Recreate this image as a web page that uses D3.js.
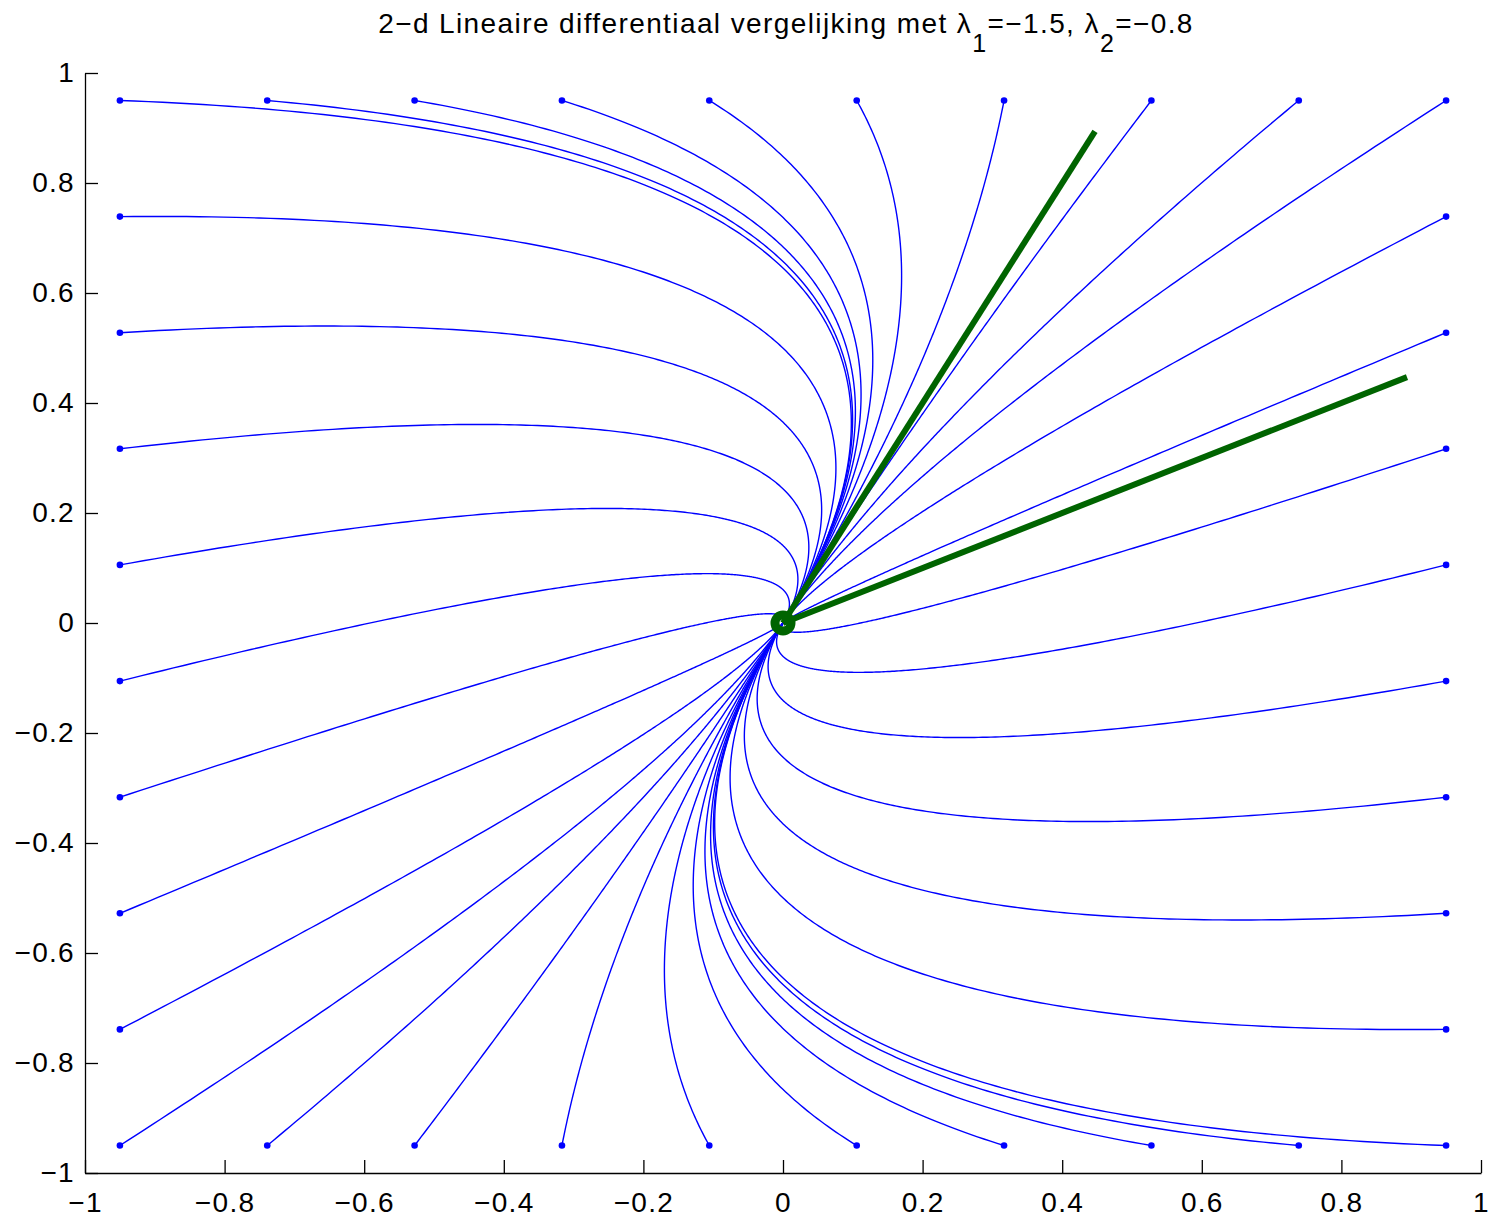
<!DOCTYPE html>
<html>
<head>
<meta charset="utf-8">
<script src="https://cdn.jsdelivr.net/npm/d3@7"></script>
<style>
  body { margin: 0; background: #fff; }
  svg text { font-family: "Liberation Sans", Arial, Helvetica, sans-serif; }
</style>
</head>
<body>
<svg id="chart" width="1491" height="1219"></svg>
<script>
// eigenvalues from the title, eigenvectors
const lambdas = [-1.5, -0.8];
const eigVecs = [[0.894, 0.447], [0.447, 0.894]];

// start positions (blue dots) along the edges of the square
const edgeVals = [-0.95, -0.7389, -0.5278, -0.3167, -0.1056, 0.1056, 0.3167, 0.5278, 0.7389, 0.95];
const innerVals = [-0.7389, -0.5278, -0.3167, -0.1056, 0.1056, 0.3167, 0.5278, 0.7389];

const xTicks = [-1, -0.8, -0.6, -0.4, -0.2, 0, 0.2, 0.4, 0.6, 0.8, 1];
const yTicks = [-1, -0.8, -0.6, -0.4, -0.2, 0, 0.2, 0.4, 0.6, 0.8, 1];

const starts = [];
edgeVals.forEach(v => { starts.push([v, 0.95]); starts.push([v, -0.95]); });
innerVals.forEach(v => { starts.push([-0.95, v]); starts.push([0.95, v]); });

const svg = d3.select("#chart");

const x = d3.scaleLinear().domain([-1, 1]).range([85, 1481]);
const y = d3.scaleLinear().domain([-1, 1]).range([1173, 73]);

// solution of x' = A x, with A = V diag(lambda) V^-1
const [v1, v2] = eigVecs;
const det = v1[0] * v2[1] - v2[0] * v1[1];
function trajectory(p) {
  const c1 = (p[0] * v2[1] - v2[0] * p[1]) / det;
  const c2 = (v1[0] * p[1] - p[0] * v1[1]) / det;
  const pts = [];
  for (let t = 0; t <= 14; t += 0.01) {
    const e1 = c1 * Math.exp(lambdas[0] * t), e2 = c2 * Math.exp(lambdas[1] * t);
    pts.push([e1 * v1[0] + e2 * v2[0], e1 * v1[1] + e2 * v2[1]]);
  }
  return pts;
}

const line = d3.line().x(d => x(d[0])).y(d => y(d[1]));

svg.append("g")
   .selectAll("path")
   .data(starts)
   .join("path")
   .attr("d", d => line(trajectory(d)))
   .attr("fill", "none")
   .attr("stroke", "#0000ff")
   .attr("stroke-width", 1.4);

svg.append("g")
   .selectAll("circle")
   .data(starts)
   .join("circle")
   .attr("cx", d => x(d[0]))
   .attr("cy", d => y(d[1]))
   .attr("r", 3.3)
   .attr("fill", "#0000ff");

// eigenvector directions
svg.append("g")
   .selectAll("line")
   .data(eigVecs)
   .join("line")
   .attr("x1", x(0)).attr("y1", y(0))
   .attr("x2", d => x(d[0])).attr("y2", d => y(d[1]))
   .attr("stroke", "#006400")
   .attr("stroke-width", 6);

svg.append("circle")
   .attr("cx", x(0)).attr("cy", y(0))
   .attr("r", 8)
   .attr("fill", "none")
   .attr("stroke", "#006400")
   .attr("stroke-width", 9);

const fmt = d => d3.format("")(d).replace("-", "\u2212");

const yAxis = svg.append("g")
   .attr("transform", `translate(${x(-1)},0)`)
   .call(d3.axisLeft(y).tickValues(yTicks).tickSize(-13).tickSizeOuter(0).tickPadding(10).tickFormat(fmt));

const xAxis = svg.append("g")
   .attr("transform", `translate(0,${y(-1)})`)
   .call(d3.axisBottom(x).tickValues(xTicks).tickSize(-13).tickSizeOuter(0).tickPadding(19).tickFormat(fmt));

[xAxis, yAxis].forEach(g => {
  g.select(".domain").attr("stroke", "#000").attr("stroke-width", 1.3);
  g.selectAll(".tick line").attr("stroke", "#000").attr("stroke-width", 1.3);
  g.selectAll(".tick text").attr("fill", "#000").style("font-size", "28px")
   .style("letter-spacing", "1.3px")
   .style("font-family", "'Liberation Sans', Arial, sans-serif");
});

// title with subscripts
const title = svg.append("text")
   .attr("x", 786).attr("y", 33)
   .attr("text-anchor", "middle")
   .style("font-size", "28px")
   .style("letter-spacing", "1.4px")
   .attr("fill", "#000");
title.append("tspan").text("2\u2212d Lineaire differentiaal vergelijking met \u03bb");
title.append("tspan").attr("dy", 19).style("font-size", "25px").text("1");
title.append("tspan").attr("dy", -19).text("=\u22121.5, \u03bb");
title.append("tspan").attr("dy", 19).style("font-size", "25px").text("2");
title.append("tspan").attr("dy", -19).text("=\u22120.8");
</script>
</body>
</html>
